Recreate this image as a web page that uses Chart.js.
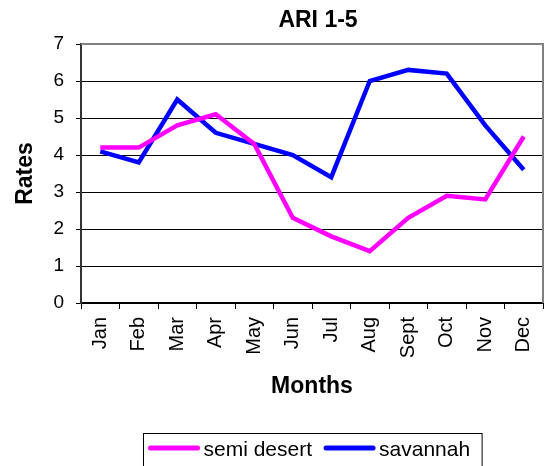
<!DOCTYPE html>
<html>
<head>
<meta charset="utf-8">
<script src="https://cdn.jsdelivr.net/npm/chart.js@4.4.1/dist/chart.umd.min.js"></script>
<style>
  html, body { margin: 0; padding: 0; background: #fff; }
  #wrap { width: 546px; height: 466px; position: relative; }
</style>
</head>
<body>
<div id="wrap"><canvas id="c" width="546" height="466"></canvas></div>
<script>
const chartTitle = "ARI 1-5";
const xTitle = "Months";
const yTitle = "Rates";
const months = ["Jan", "Feb", "Mar", "Apr", "May", "Jun", "Jul", "Aug", "Sept", "Oct", "Nov", "Dec"];
const semiDesert = [4.2, 4.2, 4.8, 5.1, 4.3, 2.3, 1.8, 1.4, 2.3, 2.9, 2.8, 4.5];
const savannah = [4.1, 3.8, 5.5, 4.6, 4.3, 4.0, 3.4, 6.0, 6.3, 6.2, 4.8, 3.6];
const seriesNames = ["semi desert", "savannah"];
const yTicks = [0, 1, 2, 3, 4, 5, 6, 7];

const FONT = "'Liberation Sans', Arial, sans-serif";

const framePlugin = {
  id: 'frame',
  afterDraw(chart) {
    const ctx = chart.ctx;
    const a = chart.chartArea;
    ctx.save();
    // top & right border of plot area (gray)
    ctx.strokeStyle = '#808080';
    ctx.lineWidth = 2;
    ctx.beginPath();
    ctx.moveTo(a.left, a.top);
    ctx.lineTo(a.right, a.top);
    ctx.lineTo(a.right, a.bottom);
    ctx.stroke();

    // title centred over plot area
    ctx.fillStyle = '#000';
    ctx.font = "bold 23px " + FONT;
    ctx.textAlign = 'center';
    ctx.textBaseline = 'middle';
    ctx.fillText(chartTitle, (a.left + a.right) / 2 + 6, 21);

    // legend
    const items = chart.data.datasets.map(d => ({ text: d.label, color: d.borderColor }));
    ctx.font = "21px " + FONT;
    const markLen = 51, padL = 5, padR = 12, gapText = 4, gapItem = 12;
    let total = padL + padR;
    items.forEach((it, i) => {
      it.w = ctx.measureText(it.text).width;
      total += markLen + gapText + it.w + (i < items.length - 1 ? gapItem : 0);
    });
    const cx = (a.left + a.right) / 2;
    const boxL = Math.round(cx - total / 2) + 0.5;
    const boxT = 433.5;
    ctx.strokeStyle = '#000';
    ctx.lineWidth = 1;
    ctx.strokeRect(boxL, boxT, total, 40);
    let x = boxL + padL;
    const y = 449;
    items.forEach((it, i) => {
      ctx.strokeStyle = it.color;
      ctx.lineWidth = 5;
      ctx.lineCap = 'round';
      ctx.beginPath();
      ctx.moveTo(x + 2, y - 1);
      ctx.lineTo(x + markLen - 2, y - 1);
      ctx.stroke();
      x += markLen + gapText;
      ctx.fillStyle = '#000';
      ctx.textAlign = 'left';
      ctx.textBaseline = 'middle';
      ctx.fillText(it.text, x, y + 1);
      x += it.w + gapItem;
    });
    ctx.restore();
  }
};

new Chart(document.getElementById('c'), {
  type: 'line',
  data: {
    labels: months,
    datasets: [
      { label: seriesNames[0], data: semiDesert, borderColor: '#FF00FF', backgroundColor: '#FF00FF',
        borderWidth: 4.5, pointRadius: 0, tension: 0, fill: false },
      { label: seriesNames[1], data: savannah, borderColor: '#0000FF', backgroundColor: '#0000FF',
        borderWidth: 4.5, pointRadius: 0, tension: 0, fill: false }
    ]
  },
  options: {
    responsive: false,
    animation: false,
    devicePixelRatio: 1,
    layout: { padding: { top: 44, right: 3, left: 0, bottom: 0 } },
    plugins: {
      legend: { display: false },
      title: { display: false },
      tooltip: { enabled: false }
    },
    scales: {
      x: {
        type: 'category',
        offset: true,
        grid: { offset: true, drawOnChartArea: false, drawTicks: true, tickLength: 6, color: '#000', lineWidth: 1 },
        border: { display: true, color: '#000', width: 2 },
        ticks: {
          color: '#000', font: { family: FONT, size: 20 },
          minRotation: 90, maxRotation: 90, padding: 8, autoSkip: false
        },
        title: { display: true, text: xTitle, color: '#000',
                 font: { family: FONT, size: 23, weight: 'bold' }, padding: { top: 0, bottom: 66 } },
        afterFit(s) { s.height = 163; s.paddingLeft = 0; s.paddingRight = 0; }
      },
      y: {
        min: 0, max: 7,
        afterBuildTicks(s) { s.ticks = yTicks.map(v => ({ value: v })); },
        grid: { color: '#000', lineWidth: 1, drawTicks: true, tickLength: 5 },
        border: { display: true, color: '#333', width: 2 },
        ticks: { color: '#000', font: { family: FONT, size: 19 }, padding: 12, stepSize: 1 },
        title: { display: true, text: yTitle, color: '#000',
                 font: { family: FONT, size: 23, weight: 'bold' }, padding: { top: 12, bottom: 0 } },
        afterFit(s) { s.width = 81; s.paddingTop = 0; s.paddingBottom = 0; }
      }
    }
  },
  plugins: [framePlugin]
});
</script>
</body>
</html>
